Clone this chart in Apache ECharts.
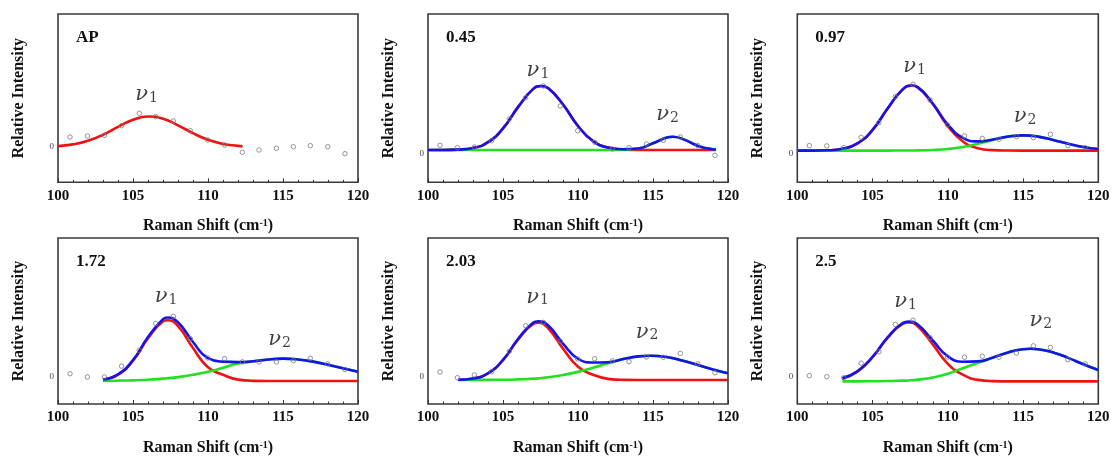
<!DOCTYPE html>
<html>
<head>
<meta charset="utf-8">
<script src="https://cdn.jsdelivr.net/npm/echarts@6/dist/echarts.min.js"></script>
<style>
  html, body { margin: 0; padding: 0; background: #fff; }
  #chart { width: 1113px; height: 457px; }
</style>
</head>
<body>
<div id="chart"></div>
<script>
// Raman shift positions of the measured points (cm-1)
const shiftPts = [100.8, 101.96, 103.09, 104.24, 105.42, 106.51, 107.69, 108.82, 109.98,
                  111.11, 112.29, 113.4, 114.56, 115.69, 116.82, 117.98, 119.13];

// Measured relative intensities, one array per sample
const ptsAP  = [1.0, 1.1, 1.17, 2.13, 3.37, 3.03, 2.6, 1.63, 0.7, 0.2, -0.53, -0.3, -0.13, 0.03, 0.13, 0.03, -0.67];
const pts045 = [0.87, 0.63, 0.7, 1.33, 3.5, 5.63, 6.8, 4.8, 2.33, 1.17, 0.5, 0.63, 1.0, 1.37, 1.7, 0.85, -0.13];
const pts097 = [0.8, 0.77, 0.6, 1.63, 3.1, 5.7, 6.93, 5.37, 2.87, 1.77, 1.53, 1.43, 1.7, 1.6, 1.93, 0.8, 0.6];
const pts172 = [0.3, -0.03, -0.03, 1.07, 2.67, 5.4, 6.13, 3.85, 1.9, 1.83, 1.5, 1.5, 1.5, 1.63, 1.87, 1.3, 0.73];
const pts203 = [0.47, -0.1, 0.17, 0.5, 2.57, 5.17, 5.5, 3.6, 1.8, 1.83, 1.6, 1.53, 2.0, 1.97, 2.37, 1.3, 0.4];
const pts25  = [0.1, 0, -0.1, 1.37, 2.53, 5.3, 5.73, 3.95, 2.0, 1.97, 2.07, 1.97, 2.4, 3.13, 2.97, 1.73, 1.3];

// Fitted components: red = v1 band, green = v2 band, blue = total fit
const fitXAP = [100, 101, 102, 103, 104, 105, 106, 107, 108, 109, 110, 111, 112, 112.3];
const redAP  = [0.09, 0.26, 0.62, 1.23, 2.01, 2.72, 3.05, 2.83, 2.17, 1.38, 0.72, 0.31, 0.11, 0.06];

const fitX045  = [100, 101, 102, 103, 104, 105, 106, 107, 107.55, 108, 109, 110, 111, 112, 113, 114, 115, 116, 116.3, 117, 118, 119, 119.2];
const red045   = [0.4, 0.4, 0.44, 0.6, 1.18, 2.56, 4.69, 6.49, 6.8, 6.59, 4.95, 2.8, 1.3, 0.64, 0.45, 0.4, 0.4, 0.4, 0.4, 0.4, 0.4, 0.4, 0.4];
const green045 = [0.4, 0.4, 0.4, 0.4, 0.4, 0.4, 0.4, 0.4, 0.4, 0.4, 0.4, 0.4, 0.4, 0.4, 0.42, 0.55, 1.07, 1.68, 1.73, 1.49, 0.81, 0.47, 0.45];
const blue045  = [0.4, 0.4, 0.44, 0.6, 1.18, 2.56, 4.69, 6.49, 6.8, 6.59, 4.95, 2.8, 1.3, 0.64, 0.47, 0.55, 1.07, 1.68, 1.73, 1.49, 0.81, 0.47, 0.45];

const fitX097  = [100, 101, 102, 103, 104, 105, 106, 107, 107.6, 108, 109, 110, 111, 112, 113, 114, 115, 116, 117, 118, 119, 120];
const red097   = [0.3, 0.3, 0.33, 0.48, 1.02, 2.37, 4.51, 6.42, 6.8, 6.63, 4.96, 2.75, 1.22, 0.54, 0.35, 0.31, 0.3, 0.3, 0.3, 0.3, 0.3, 0.3];
const green097 = [0.3, 0.3, 0.3, 0.3, 0.3, 0.3, 0.3, 0.31, 0.31, 0.32, 0.36, 0.46, 0.66, 0.98, 1.36, 1.7, 1.83, 1.7, 1.36, 0.98, 0.66, 0.46];
const blue097  = [0.3, 0.3, 0.33, 0.48, 1.02, 2.37, 4.51, 6.43, 6.81, 6.65, 5.02, 2.91, 1.58, 1.22, 1.41, 1.71, 1.83, 1.7, 1.36, 0.98, 0.66, 0.46];

const fitX172  = [103, 104, 105, 106, 107, 107.3, 108, 109, 110, 111, 112, 113, 114, 115, 116, 117, 118, 119, 120];
const red172   = [-0.3, 0.21, 1.62, 3.9, 5.61, 5.73, 5.13, 2.9, 0.95, 0.2, -0.3, -0.42, -0.43, -0.43, -0.43, -0.43, -0.43, -0.43, -0.43];
const green172 = [-0.42, -0.4, -0.37, -0.31, -0.2, -0.16, -0.04, 0.19, 0.5, 0.9, 1.35, 1.55, 1.75, 1.83, 1.75, 1.53, 1.21, 0.85, 0.5];
const blue172  = [-0.29, 0.24, 1.68, 4.02, 5.84, 6.0, 5.52, 3.52, 1.88, 1.53, 1.48, 1.56, 1.75, 1.83, 1.75, 1.53, 1.21, 0.85, 0.5];

const fitX203  = [102, 103, 104, 105, 106, 107, 107.35, 108, 109, 110, 111, 112, 113, 114, 114.8, 116, 117, 118, 119, 120];
const red203   = [-0.31, -0.18, 0.34, 1.68, 3.76, 5.34, 5.47, 4.94, 2.85, 1.0, 0.2, -0.22, -0.32, -0.33, -0.33, -0.33, -0.33, -0.33, -0.33, -0.33];
const green203 = [-0.33, -0.33, -0.32, -0.31, -0.27, -0.2, -0.17, -0.06, 0.17, 0.49, 0.91, 1.36, 1.78, 2.06, 2.13, 1.97, 1.62, 1.18, 0.73, 0.35];
const blue203  = [-0.31, -0.18, 0.35, 1.7, 3.82, 5.47, 5.63, 5.21, 3.35, 1.82, 1.44, 1.47, 1.79, 2.06, 2.13, 1.97, 1.62, 1.18, 0.73, 0.35];

const fitX25  = [103, 104, 105, 106, 107, 107.4, 108, 109, 110, 111, 112, 113, 114, 115, 115.5, 116, 117, 118, 119, 120];
const red25   = [-0.17, 0.54, 1.99, 3.95, 5.36, 5.5, 5.12, 3.28, 1.3, 0.2, -0.32, -0.45, -0.47, -0.47, -0.47, -0.47, -0.47, -0.47, -0.47, -0.47];
const green25 = [-0.47, -0.47, -0.46, -0.44, -0.4, -0.38, -0.3, -0.08, 0.3, 0.85, 1.4, 1.93, 2.46, 2.79, 2.83, 2.79, 2.46, 1.91, 1.26, 0.67];
const blue25  = [-0.17, 0.54, 2.0, 3.98, 5.43, 5.59, 5.29, 3.67, 2.07, 1.52, 1.55, 1.95, 2.46, 2.79, 2.83, 2.79, 2.46, 1.91, 1.26, 0.67];

// Sample names shown in each panel
const sampleNames = ['AP', '0.45', '0.97', '1.72', '2.03', '2.5'];

// Axis ticks
const xTickMin = 100, xTickMax = 120, xTickStep = 5;
const yTickValues = [0];

// Band label anchors [shift, intensity, subscript]
const bandLabels = [
  [[105.9, 5.3, '1']],
  [[107.33, 8.4, '1'], [115.97, 4.0, '2']],
  [[107.79, 8.77, '1'], [115.13, 3.77, '2']],
  [[107.2, 8.17, '1'], [114.77, 3.77, '2']],
  [[107.3, 8.1, '1'], [114.6, 4.57, '2']],
  [[107.2, 7.67, '1'], [116.18, 5.74, '2']]
];

const panelData = [
  { pts: ptsAP,  x: fitXAP,  red: redAP },
  { pts: pts045, x: fitX045, red: red045, green: green045, blue: blue045 },
  { pts: pts097, x: fitX097, red: red097, green: green097, blue: blue097 },
  { pts: pts172, x: fitX172, red: red172, green: green172, blue: blue172 },
  { pts: pts203, x: fitX203, red: red203, green: green203, blue: blue203 },
  { pts: pts25,  x: fitX25,  red: red25,  green: green25,  blue: blue25 }
];

// Layout of the 2 x 3 panel grid (pixels) and the vertical extent of each panel
const gridLefts = [58, 428, 797.3];
const gridWidths = [300, 300, 301];
const gridTops = [14, 238];
const gridHeight = 168.3;
const yRanges = [[-3.53, 13.3], [-2.83, 14.0], [-2.87, 13.97], [-2.77, 14.07], [-2.77, 14.07], [-2.77, 14.07]];

const SERIF = '"Liberation Serif", "Times New Roman", serif';
const COLORS = { red: '#f01212', green: '#22e022', blue: '#1414ea' };

const zip = (xs, ys) => xs.map((x, i) => [x, ys[i]]);

const grids = [], xAxes = [], yAxes = [], series = [];

panelData.forEach((p, i) => {
  const row = Math.floor(i / 3), col = i % 3;
  grids.push({
    left: gridLefts[col], top: gridTops[row], width: gridWidths[col], height: gridHeight,
    show: true, borderColor: '#3a3a3a', borderWidth: 1.6, backgroundColor: 'transparent',
    containLabel: false
  });
  xAxes.push({
    gridIndex: i, type: 'value', min: xTickMin, max: xTickMax, interval: xTickStep,
    name: 'Raman Shift (cm{sup|-1})', nameLocation: 'middle', nameGap: 36,
    nameTextStyle: {
      fontFamily: SERIF, fontWeight: 'bold', fontSize: 16, color: '#111',
      rich: { sup: { fontFamily: SERIF, fontWeight: 'bold', fontSize: 10, color: '#111', verticalAlign: 'top', padding: [0, 0, 6, 0] } }
    },
    axisLine: { show: false, onZero: false },
    axisTick: { show: true, inside: true, length: 4, lineStyle: { color: '#333', width: 1 } },
    minorTick: { show: true, splitNumber: 5, length: 2.5, lineStyle: { color: '#333', width: 1 } },
    axisLabel: { fontFamily: SERIF, fontWeight: 'bold', fontSize: 15, color: '#111', margin: 6 },
    splitLine: { show: false }
  });
  yAxes.push({
    gridIndex: i, type: 'value', min: yRanges[i][0], max: yRanges[i][1],
    name: 'Relative Intensity', nameLocation: 'middle', nameGap: 31,
    nameTextStyle: { fontFamily: SERIF, fontWeight: 'bold', fontSize: 16, color: '#111' },
    axisLine: { show: false, onZero: false },
    axisTick: { show: false },
    axisLabel: { customValues: yTickValues, fontFamily: SERIF, fontSize: 9, color: '#444', margin: 4 },
    splitLine: { show: false }
  });

  const lineStyle = (c) => ({ color: c, width: 2.6 });
  series.push({
    type: 'line', xAxisIndex: i, yAxisIndex: i, data: zip(p.x, p.red),
    showSymbol: false, smooth: 0.5, lineStyle: lineStyle(COLORS.red), z: 2, silent: true
  });
  if (p.green) {
    series.push({
      type: 'line', xAxisIndex: i, yAxisIndex: i, data: zip(p.x, p.green),
      showSymbol: false, smooth: 0.5, lineStyle: lineStyle(COLORS.green), z: 2, silent: true
    });
  }
  if (p.blue) {
    series.push({
      type: 'line', xAxisIndex: i, yAxisIndex: i, data: zip(p.x, p.blue),
      showSymbol: false, smooth: 0.5, lineStyle: lineStyle(COLORS.blue), z: 3, silent: true
    });
  }
  series.push({
    type: 'scatter', xAxisIndex: i, yAxisIndex: i, data: zip(shiftPts, p.pts),
    symbol: 'circle', symbolSize: 4.5,
    itemStyle: { color: 'rgba(255,255,255,0)', borderColor: '#7a7a7a', borderWidth: 1 }, z: 4, silent: true
  });
  // band labels v1 / v2
  series.push({
    type: 'scatter', xAxisIndex: i, yAxisIndex: i, symbolSize: 0, silent: true, z: 5,
    data: bandLabels[i].map(b => ({ value: [b[0], b[1]], sub: b[2] })),
    label: {
      show: true, position: 'inside',
      formatter: (d) => '{nu|\u03bd}{sub|' + d.data.sub + '}',
      rich: {
        nu: { fontFamily: '"DejaVu Serif", serif', fontStyle: 'italic', fontSize: 21, color: '#111', verticalAlign: 'bottom', lineHeight: 22 },
        sub: { fontFamily: '"DejaVu Serif", serif', fontSize: 14, color: '#111', verticalAlign: 'bottom', lineHeight: 14, padding: [10, 0, 0, 1] }
      }
    }
  });
});

// Sample names in the upper-left corner of each panel
const graphics = sampleNames.map((name, i) => {
  const row = Math.floor(i / 3), col = i % 3;
  return {
    type: 'text', left: gridLefts[col] + 18, top: gridTops[row] + 15,
    style: { text: name, font: 'bold 17px ' + SERIF, fill: '#111' }
  };
});

const chart = echarts.init(document.getElementById('chart'), null, { renderer: 'canvas' });
chart.setOption({
  animation: false,
  backgroundColor: '#fff',
  grid: grids, xAxis: xAxes, yAxis: yAxes, series: series, graphic: graphics
});
</script>
</body>
</html>
